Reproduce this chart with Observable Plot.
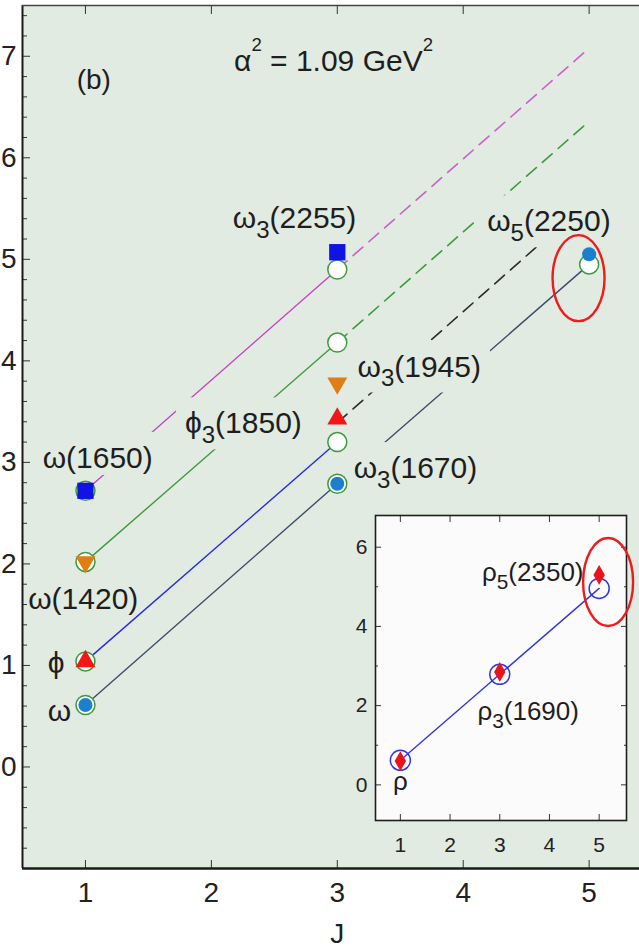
<!DOCTYPE html>
<html><head><meta charset="utf-8">
<script src="https://cdn.jsdelivr.net/npm/d3@7"></script>
<script src="https://cdn.jsdelivr.net/npm/@observablehq/plot@0.6"></script>
<style>
html,body{margin:0;padding:0;background:#fff;}
#wrap{position:relative;width:639px;height:948px;overflow:hidden;}
#main{position:absolute;left:0;top:0;}
#inset{position:absolute;left:330px;top:505px;}
</style></head>
<body><div id="wrap"><div id="main"></div><div id="inset"></div></div>
<script>
// ---------------- data ----------------
// Regge trajectories (main panel): M² (GeV²) vs J
const trajNames = ["ω", "ϕ", "ω(1420)", "ω(1650)"];
const trajM2J1 = [0.61, 1.04, 2.02, 2.72];   // theory at J=1
const trajM2J3 = [2.79, 3.20, 4.18, 4.90];   // theory at J=3
const omegaM2J5 = [4.95];                    // theory at J=5 (ω trajectory)
// dashed extensions J=3 -> J=5
const dashTraj = ["ϕ", "ω(1420)", "ω(1650)"];
const dashM2J3 = [3.39, 4.18, 4.90];
const dashM2J5 = [5.58, 6.36, 7.08];
// experimental states
const expTraj = ["ω", "ϕ", "ω(1420)", "ω(1650)", "ω", "ϕ", "ω(1420)", "ω(1650)", "ω"];
const expJ    = [1, 1, 1, 1, 3, 3, 3, 3, 5];
const expM2   = [0.61, 1.04, 2.02, 2.72, 2.79, 3.43, 3.78, 5.07, 5.05];
// state labels (anchored in data units)
const labelText = ["ω", "ϕ", "ω(1420)", "ω(1650)", "ω₃(1670)", "ϕ₃(1850)", "ω₃(1945)", "ω₃(2255)", "ω₅(2250)"];
const labelJ    = [0.70, 0.70, 0.545, 0.66, 3.13, 1.79, 3.16, 2.17, 4.19];
const labelM2   = [0.55, 1.02, 1.65, 3.04, 2.94, 3.38, 3.94, 5.40, 5.37];
const noteText  = ["(b)", "α² = 1.09 GeV²"];
const noteJ     = [0.93, 2.18];
const noteM2    = [6.77, 6.95];
const highlightJ = [4.92], highlightM2 = [4.81];
const xTicks = [1, 2, 3, 4, 5];
const yTicks = [0, 1, 2, 3, 4, 5, 6, 7];
const xDomain = [0.5, 5.4], yDomain = [-1, 7.5];
const axisTitle = ["J"], axisTitleJ = 3;

// inset: ρ trajectory
const rhoJ = [1, 3, 5];
const rhoTheory = [0.62, 2.79, 4.96];
const rhoExp = [0.60, 2.85, 5.30];
const rhoLabel = ["ρ", "ρ₃(1690)", "ρ₅(2350)"];
const rhoLabelJ = [1.0, 2.55, 4.685];
const rhoLabelM2 = [0.09, 1.85, 5.36];
const insetXTicks = [1, 2, 3, 4, 5];
const insetYTicks = [0, 2, 4, 6];
const insetYMinor = [1, 3, 5];
const insetXDomain = [0.5, 5.55], insetYDomain = [-0.9, 6.8];
const insetHighlightJ = [5.19], insetHighlightM2 = [5.11];

// ---------------- styles ----------------
const font = '"Liberation Sans", Arial, Helvetica, sans-serif';
const bg = "#e1ebe1";
const lineColor = {"ω": "#3e4b6c", "ϕ": "#2a2ade", "ω(1420)": "#3f9a3f", "ω(1650)": "#c444c4"};
const dashColor = {"ϕ": "#2b2b2b", "ω(1420)": "#3f9a3f", "ω(1650)": "#cc5fcc"};
const svgNS = "http://www.w3.org/2000/svg";
const intFmt = d3.format("d");
const triangleDown = {
  draw(ctx, size) {
    const s3 = Math.sqrt(3);
    const y = Math.sqrt(size / (s3 * 3));
    ctx.moveTo(0, y * 2);
    ctx.lineTo(-s3 * y, -y);
    ctx.lineTo(s3 * y, -y);
    ctx.closePath();
  }
};
const expStyle = {
  "ω": {symbol: "circle", r: 7, fill: "#1c7fcc"},
  "ϕ": {symbol: "triangle", r: 7.4, fill: "#f21616"},
  "ω(1420)": {symbol: triangleDown, r: 7.4, fill: "#e27c14"},
  "ω(1650)": {symbol: "square", r: 9.2, fill: "#1212e6"}
};
const boxedLabels = new Set(["ω(1650)", "ω₃(1670)", "ϕ₃(1850)", "ω₃(1945)", "ω₅(2250)"]);

// ---------------- tables ----------------
const solidRows = [];
trajNames.forEach((t, i) => {
  solidRows.push({traj: t, J: 1, M2: trajM2J1[i]});
  solidRows.push({traj: t, J: 3, M2: trajM2J3[i]});
});
solidRows.push({traj: "ω", J: 5, M2: omegaM2J5[0]});
const dashRows = [];
dashTraj.forEach((t, i) => {
  dashRows.push({traj: t, J: 3, M2: dashM2J3[i]});
  dashRows.push({traj: t, J: 5, M2: dashM2J5[i]});
});
const theoryRows = [
  ...trajM2J1.map(v => ({J: 1, M2: v})),
  ...trajM2J3.map(v => ({J: 3, M2: v})),
  ...omegaM2J5.map(v => ({J: 5, M2: v}))
];
const expRows = expJ.map((J, i) => ({J, M2: expM2[i], traj: expTraj[i]}));
const labelRows = labelText.map((text, i) => ({text, J: labelJ[i], M2: labelM2[i]}));
const noteRows = noteText.map((text, i) => ({text, J: noteJ[i], M2: noteM2[i]}));
const rhoRows = rhoJ.map((J, i) => ({J, theory: rhoTheory[i], exp: rhoExp[i]}));
const rhoLabelRows = rhoLabel.map((text, i) => ({text, J: rhoLabelJ[i], M2: rhoLabelM2[i]}));

function ellipseMark(J, M2, rx, ry) {
  return (index, scales) => {
    const g = document.createElementNS(svgNS, "g");
    J.forEach((j, i) => {
      const e = document.createElementNS(svgNS, "ellipse");
      e.setAttribute("cx", scales.x(j));
      e.setAttribute("cy", scales.y(M2[i]));
      e.setAttribute("rx", rx);
      e.setAttribute("ry", ry);
      e.setAttribute("fill", "none");
      e.setAttribute("stroke", "#ee1c1c");
      e.setAttribute("stroke-width", 2.4);
      g.appendChild(e);
    });
    return g;
  };
}
const blank = () => "";

// ---------------- main panel ----------------
const mainPlot = Plot.plot({
  width: 639, height: 948,
  marginLeft: 22, marginRight: 0, marginTop: 5, marginBottom: 80,
  x: {domain: xDomain, label: null},
  y: {domain: yDomain, label: null},
  style: {fontFamily: font, fontSize: "28px", color: "#222", background: "transparent", overflow: "visible"},
  marks: [
    Plot.frame({fill: bg, stroke: null}),
    ...trajNames.map(t => Plot.line(solidRows.filter(d => d.traj === t), {x: "J", y: "M2", stroke: lineColor[t], strokeWidth: 1.4})),
    ...dashTraj.map(t => Plot.line(dashRows.filter(d => d.traj === t), {x: "J", y: "M2", stroke: dashColor[t], strokeWidth: 1.6, strokeDasharray: "13,8"})),
    Plot.text(labelRows, {x: "J", y: "M2", text: "text", textAnchor: "start", fontSize: 30, fill: "#1e1e1e"}),
    Plot.text(noteRows.slice(0, 1), {x: "J", y: "M2", text: "text", textAnchor: "start", fontSize: 28, fill: "#1e1e1e"}),
    Plot.text(noteRows.slice(1), {x: "J", y: "M2", text: "text", textAnchor: "start", fontSize: 30, fill: "#1e1e1e"}),
    Plot.dot(theoryRows, {x: "J", y: "M2", r: 9.5, fill: "#ffffff", stroke: "#3f9a3f", strokeWidth: 1.5}),
    ...trajNames.map(t => Plot.dot(expRows.filter(d => d.traj === t), {x: "J", y: "M2", ...expStyle[t]})),
    // axes
    Plot.axisY(yTicks, {anchor: "left", tickSize: 0, tickPadding: 6, fontSize: 28, tickFormat: intFmt, label: null}),
    Plot.axisY(yTicks, {anchor: "left", tickSize: 8, dx: 8, tickFormat: blank, label: null, stroke: "#333"}),
    Plot.axisY(d3.range(-5, 38).map(i => i / 5).filter(v => Math.abs(v - Math.round(v)) > 1e-9), {anchor: "left", tickSize: 5, dx: 5, tickFormat: blank, label: null, stroke: "#333"}),
    Plot.axisX(xTicks, {anchor: "bottom", tickSize: 0, tickPadding: 14, fontSize: 28, tickFormat: intFmt, label: null}),
    Plot.axisX(xTicks, {anchor: "bottom", tickSize: 8, dy: -8, tickFormat: blank, label: null, stroke: "#333"}),
    Plot.axisX(xTicks, {anchor: "top", tickSize: 8, dy: 8, tickFormat: blank, label: null, stroke: "#333"}),
    Plot.text(axisTitle, {x: axisTitleJ, frameAnchor: "bottom", dy: 55, lineAnchor: "top", text: d => d, fontSize: 28, fill: "#1e1e1e"}),
    Plot.ruleX([xDomain[0]], {stroke: "#1a1a1a", strokeWidth: 2}),
    Plot.ruleY([yDomain[0]], {stroke: "#1a1a1a", strokeWidth: 2.4}),
    Plot.ruleY([yDomain[1]], {stroke: "#444", strokeWidth: 1.5}),
    ellipseMark(highlightJ, highlightM2, 26, 43)
  ]
});

// ---------------- inset ----------------
const insetPlot = Plot.plot({
  width: 309, height: 362,
  marginLeft: 45, marginRight: 13, marginTop: 10, marginBottom: 47,
  x: {domain: insetXDomain, label: null},
  y: {domain: insetYDomain, label: null},
  style: {fontFamily: font, fontSize: "21px", color: "#222", background: "transparent", overflow: "visible"},
  marks: [
    Plot.frame({fill: "#fbfbfb", stroke: null}),
    Plot.line(rhoRows, {x: "J", y: "theory", stroke: "#3535e0", strokeWidth: 1.4}),
    Plot.dot(rhoRows, {x: "J", y: "theory", r: 10, fill: "none", stroke: "#3535e0", strokeWidth: 1.5}),
    Plot.dot(rhoRows, {x: "J", y: "exp", symbol: "diamond", r: 6, fill: "#e8141c"}),
    Plot.text(rhoLabelRows.slice(0, 1), {x: "J", y: "M2", text: "text", textAnchor: "middle", fontSize: 26, fill: "#1e1e1e"}),
    Plot.text(rhoLabelRows.slice(1, 2), {x: "J", y: "M2", text: "text", textAnchor: "start", fontSize: 26, fill: "#1e1e1e"}),
    Plot.text(rhoLabelRows.slice(2), {x: "J", y: "M2", text: "text", textAnchor: "end", fontSize: 26, fill: "#1e1e1e"}),
    Plot.axisY(insetYTicks, {anchor: "left", tickSize: 0, tickPadding: 8, fontSize: 21, tickFormat: intFmt, label: null}),
    Plot.axisX(insetXTicks, {anchor: "bottom", tickSize: 0, tickPadding: 17, fontSize: 21, tickFormat: intFmt, label: null}),
    Plot.axisY(insetYTicks, {anchor: "left", tickSize: 6, dx: 6, tickFormat: blank, label: null, stroke: "#333"}),
    Plot.axisY(insetYMinor, {anchor: "left", tickSize: 3, dx: 3, tickFormat: blank, label: null, stroke: "#333"}),
    Plot.axisY(insetYTicks, {anchor: "right", tickSize: 6, dx: -6, tickFormat: blank, label: null, stroke: "#333"}),
    Plot.axisY(insetYMinor, {anchor: "right", tickSize: 3, dx: -3, tickFormat: blank, label: null, stroke: "#333"}),
    Plot.axisX(insetXTicks, {anchor: "bottom", tickSize: 6, dy: -6, tickFormat: blank, label: null, stroke: "#333"}),
    Plot.axisX(insetXTicks, {anchor: "top", tickSize: 6, dy: 6, tickFormat: blank, label: null, stroke: "#333"}),
    Plot.frame({stroke: "#1e1e1e", strokeWidth: 1.6}),
    ellipseMark(insetHighlightJ, insetHighlightM2, 25, 44)
  ]
});

document.getElementById("main").appendChild(mainPlot);
document.getElementById("inset").appendChild(insetPlot);

// ---------------- rich text: sub/superscripts + label backgrounds ----------------
const SUB = "₀₁₂₃₄₅₆₇₈₉";
function richify(svg) {
  svg.querySelectorAll("text").forEach(t => {
    const s = t.textContent;
    if (!/[₀-₉²]/.test(s) || t.querySelector("tspan")) return;
    const fs = parseFloat(getComputedStyle(t).fontSize);
    const runs = [];
    for (const c of s) {
      let kind = "n", ch = c;
      const k = SUB.indexOf(c);
      if (k >= 0) { kind = "sub"; ch = String(k); }
      else if (c === "²") { kind = "sup"; ch = "2"; }
      if (runs.length && runs[runs.length - 1].kind === kind) runs[runs.length - 1].text += ch;
      else runs.push({kind, text: ch});
    }
    t.textContent = "";
    let cur = 0;
    for (const r of runs) {
      const sp = document.createElementNS(svgNS, "tspan");
      const target = r.kind === "sub" ? 0.33 * fs : r.kind === "sup" ? -0.68 * fs : 0;
      if (target !== cur) sp.setAttribute("dy", target - cur);
      cur = target;
      if (r.kind !== "n") sp.setAttribute("font-size", (r.kind === "sub" ? 0.8 : 0.62) * fs);
      sp.textContent = r.text;
      t.appendChild(sp);
    }
  });
}
const toBox = [...mainPlot.querySelectorAll("text")].filter(t => boxedLabels.has(t.textContent));
richify(mainPlot);
richify(insetPlot);
toBox.forEach(t => {
  const b = t.getBBox();
  const rect = document.createElementNS(svgNS, "rect");
  const px = 9, pTop = 9, pBottom = 1;
  rect.setAttribute("x", b.x - px);
  rect.setAttribute("y", b.y - pTop);
  rect.setAttribute("width", b.width + 2 * px);
  rect.setAttribute("height", b.height + pTop + pBottom);
  rect.setAttribute("fill", bg);
  rect.setAttribute("stroke", "none");
  const tr = t.getAttribute("transform");
  if (tr) rect.setAttribute("transform", tr);
  t.parentNode.insertBefore(rect, t);
});
</script>
</body></html>
